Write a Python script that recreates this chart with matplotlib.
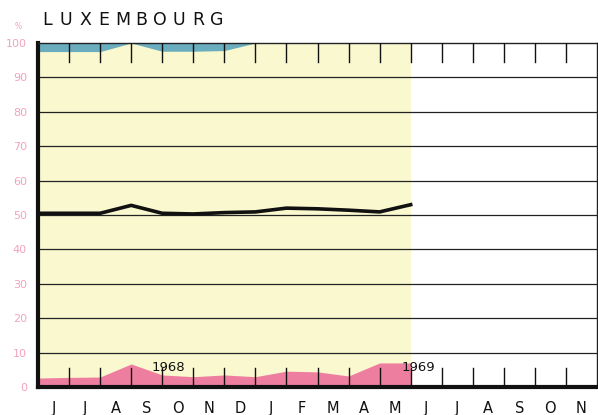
import numpy as np
import matplotlib
matplotlib.use("Agg")
import matplotlib.pyplot as plt

title = "LUXEMBOURG"
months = ["J", "J", "A", "S", "O", "N", "D", "J", "F", "M", "A", "M",
          "J", "J", "A", "S", "O", "N"]
yticks = [0, 10, 20, 30, 40, 50, 60, 70, 80, 90, 100]
# values at month boundaries (June 1968 .. June 1969)
line_vals = [50.5, 50.5, 50.5, 52.8, 50.5, 50.3, 50.7, 50.9, 52.0, 51.8, 51.4, 50.9, 53.0]
pink_vals = [2.6, 2.8, 2.9, 6.7, 3.5, 3.0, 3.5, 3.0, 4.6, 4.4, 3.2, 7.0, 7.0]
blue_vals = [97.5, 97.5, 97.5, 100, 97.6, 97.6, 97.8, 100, 100, 100, 100, 100, 100]
year_labels = ["1968", "1969"]

fig = plt.figure(figsize=(5.98, 4.15), dpi=100)
ax = fig.add_axes([38/598, 28/415, 559/598, 344/415])
n = len(months)
x = np.arange(len(line_vals))

ax.set_xlim(0, n)
ax.set_ylim(0, 100)
ax.axvspan(0, 12, color="#faf8cf", zorder=0, lw=0)

ax.fill_between(x, 0, pink_vals, color="#ee7e9f", lw=0, zorder=1)
ax.fill_between(x, blue_vals, 100, color="#6aadbf", lw=0, zorder=1)

for v in yticks[1:-1]:
    ax.axhline(v, color="#222222", lw=0.9, zorder=2)

# inner month ticks (top and bottom)
for k in range(1, n):
    ax.plot([k, k], [100, 94.5], color="#111111", lw=1.0, zorder=3)
    ax.plot([k, k], [0, 5.5], color="#111111", lw=1.0, zorder=3)

ax.plot(x, line_vals, color="#111111", lw=2.6, zorder=4, solid_joinstyle="round")

for s in ["top", "right"]:
    ax.spines[s].set_linewidth(1.0)
    ax.spines[s].set_color("#222222")
ax.spines["left"].set_linewidth(3.0)
ax.spines["bottom"].set_linewidth(3.0)
ax.spines["left"].set_color("#111111")
ax.spines["bottom"].set_color("#111111")

ax.set_yticks(yticks)
ax.set_yticklabels([str(v) for v in yticks], color="#f2a3bb", fontsize=8)
ax.tick_params(axis="y", length=0, pad=8)
ax.set_xticks(np.arange(n) + 0.5)
ax.set_xticklabels(months, fontsize=10.5, color="#111111")
ax.tick_params(axis="x", length=0, pad=10)

ax.text(-0.65, 103.5, "%", color="#f2a3bb", fontsize=5.5, ha="center", va="bottom",
        transform=ax.transData, clip_on=False)

ax.text(4.2, 5.8, year_labels[0], fontsize=9.5, color="#111111", ha="center", va="center",
        zorder=5)
ax.text(12.25, 5.8, year_labels[1], fontsize=9.5, color="#111111", ha="center", va="center",
        zorder=5)

# letter-spaced title
for i, ch in enumerate(title):
    fig.text((47.5 + i * 18.8) / 598, 1 - 20/415, ch, fontsize=12.5,
             color="#111111", ha="center", va="center")

fig.savefig("out.png", dpi=100)
